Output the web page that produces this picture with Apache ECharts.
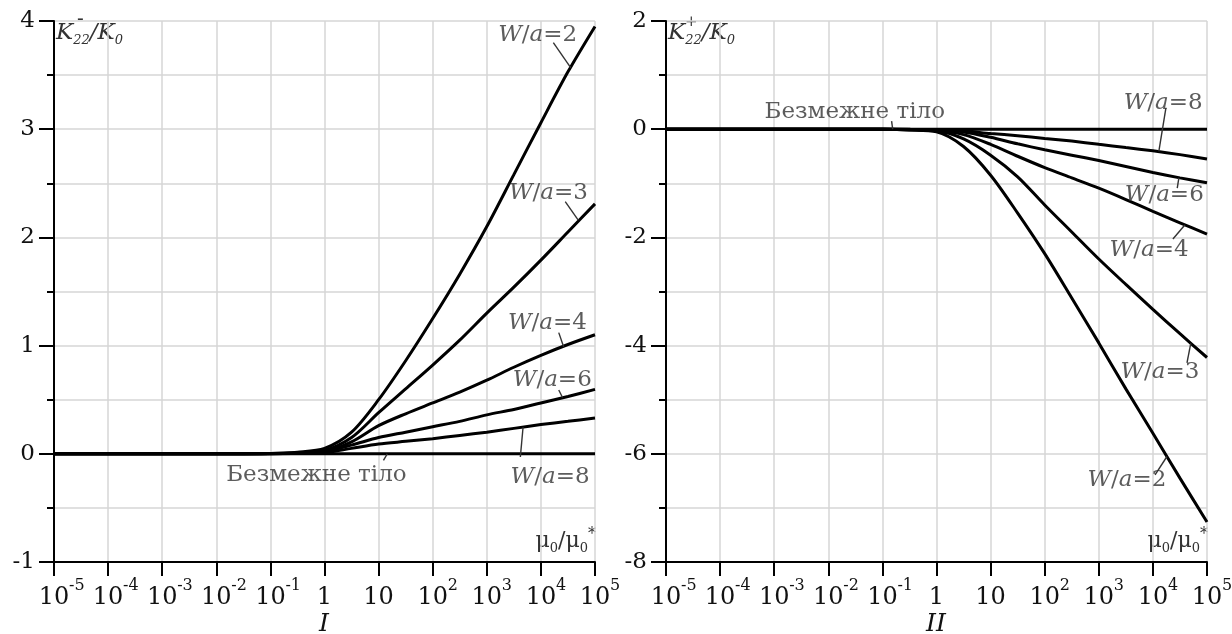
<!DOCTYPE html>
<html lang="uk">
<head>
  <meta charset="utf-8">
</head>
<body style="margin: 0">
  <div id="container" style="width: 1232px; height: 634px"></div>

  <script type="text/javascript" src="https://cdn.jsdelivr.net/npm/echarts@6/dist/echarts.min.js"></script>

  <script type="text/javascript">
    // x is lg(mu0/mu0*), one decade per unit
    var lgMu = [-5, -4, -3, -2, -1, -0.5, 0, 0.5, 1, 1.5, 2, 2.5, 3, 3.5, 4, 4.5, 5];
    var xTicks = [-5, -4, -3, -2, -1, 0, 1, 2, 3, 4, 5];

    // I : K22- / K0
    var minusInf = [0, 0, 0, 0, 0, 0, 0, 0, 0, 0, 0, 0, 0, 0, 0, 0, 0];
    var minusW2 = [0, 0, 0, 0, 0.003, 0.015, 0.05, 0.2, 0.5, 0.86, 1.25, 1.66, 2.1, 2.58, 3.06, 3.53, 3.95];
    var minusW3 = [0, 0, 0, 0, 0.002, 0.01, 0.03, 0.15, 0.38, 0.6, 0.82, 1.05, 1.3, 1.54, 1.79, 2.05, 2.31];
    var minusW4 = [0, 0, 0, 0, 0.002, 0.008, 0.02, 0.11, 0.26, 0.37, 0.47, 0.57, 0.68, 0.8, 0.91, 1.01, 1.1];
    var minusW6 = [0, 0, 0, 0, 0.001, 0.005, 0.02, 0.08, 0.15, 0.2, 0.25, 0.3, 0.36, 0.41, 0.47, 0.53, 0.595];
    var minusW8 = [0, 0, 0, 0, 0.001, 0.004, 0.01, 0.05, 0.09, 0.115, 0.14, 0.17, 0.2, 0.235, 0.27, 0.3, 0.33];

    // II : K22+ / K0
    var plusInf = [0, 0, 0, 0, 0, 0, 0, 0, 0, 0, 0, 0, 0, 0, 0, 0, 0];
    var plusW2 = [0, 0, 0, 0, -0.003, -0.015, -0.05, -0.32, -0.85, -1.55, -2.3, -3.12, -3.95, -4.8, -5.62, -6.45, -7.26];
    var plusW3 = [0, 0, 0, 0, -0.002, -0.01, -0.03, -0.18, -0.48, -0.88, -1.4, -1.9, -2.4, -2.87, -3.33, -3.78, -4.22];
    var plusW4 = [0, 0, 0, 0, -0.002, -0.008, -0.02, -0.1, -0.28, -0.5, -0.71, -0.9, -1.09, -1.3, -1.52, -1.73, -1.94];
    var plusW6 = [0, 0, 0, 0, -0.001, -0.005, -0.015, -0.05, -0.15, -0.27, -0.38, -0.48, -0.58, -0.69, -0.8, -0.9, -0.99];
    var plusW8 = [0, 0, 0, 0, -0.001, -0.003, -0.01, -0.03, -0.08, -0.12, -0.17, -0.22, -0.28, -0.34, -0.4, -0.47, -0.55];

    // curve captions: text anchor and leader line, in data coordinates
    var minusNotes = [
      { text: 'W/a=2', at: [3.94, 3.87], leader: [[4.23, 3.8], [4.55, 3.57]] },
      { text: 'W/a=3', at: [4.14, 2.41], leader: [[4.45, 2.33], [4.69, 2.16]] },
      { text: 'W/a=4', at: [4.12, 1.21], leader: [[4.33, 1.12], [4.42, 0.99]] },
      { text: 'W/a=6', at: [4.21, 0.68], leader: [[4.33, 0.59], [4.4, 0.52]] },
      { text: 'W/a=8', at: [4.17, -0.215], leader: [[3.62, -0.03], [3.67, 0.245]] },
      { text: 'Безмежне тіло', at: [-0.15, -0.195], leader: [[1.09, -0.06], [1.16, 0]] }
    ];
    var plusNotes = [
      { text: 'Безмежне тіло', at: [-1.51, 0.32], leader: [[-0.83, 0.15], [-0.81, 0]] },
      { text: 'W/a=8', at: [4.19, 0.48], leader: [[4.24, 0.39], [4.11, -0.41]] },
      { text: 'W/a=6', at: [4.21, -1.22], leader: [[4.45, -1.09], [4.48, -0.9]] },
      { text: 'W/a=4', at: [3.93, -2.23], leader: [[4.37, -2.03], [4.59, -1.77]] },
      { text: 'W/a=3', at: [4.13, -4.49], leader: [[4.63, -4.32], [4.7, -3.96]] },
      { text: 'W/a=2', at: [3.52, -6.48], leader: [[4.04, -6.39], [4.26, -6.05]] }
    ];

    var FONT = 'DejaVu Serif';
    var dom = document.getElementById('container');
    var myChart = echarts.init(dom, null, { renderer: 'canvas' });

    function pairs(ys) {
      return lgMu.map(function (x, i) { return [x, ys[i]]; });
    }

    // "10" part of each tick label, centred on the tick
    function baseLabel(v) {
      if (xTicks.indexOf(v) < 0) return '';
      return v === 0 ? '1' : '10';
    }
    // exponent part, drawn by a second axis, starting right of the "10"
    function expLabel(v) {
      if (xTicks.indexOf(v) < 0 || v === 0 || v === 1) return '';
      return '{p|}{s|' + v + '}';
    }

    var noteRich = {
      i: { fontSize: 23, fontFamily: FONT, fontStyle: 'italic', color: '#333' },
      n: { fontSize: 23, fontFamily: FONT, color: '#333' }
    };
    function noteText(t) {
      var m = /^W\/a=(\d)$/.exec(t);
      if (m) return '{i|W}{n|/}{i|a}{n|=' + m[1] + '}';
      return '{n|' + t + '}';
    }

    function xAxisFor(idx) {
      return {
        type: 'value', gridIndex: idx, position: 'bottom', min: -5, max: 5, interval: 1,
        axisLine: { show: true, onZero: false, lineStyle: { color: '#000', width: 2 } },
        axisTick: { show: true, length: 14, lineStyle: { color: '#000', width: 2 } },
        splitLine: { show: true, lineStyle: { color: '#d6d6d6', width: 1.5 } },
        axisLabel: {
          margin: 24, formatter: baseLabel, fontSize: 24, lineHeight: 24,
          fontFamily: FONT, color: '#111',
          showMinLabel: true, showMaxLabel: true, hideOverlap: false
        }
      };
    }
    function expAxisFor(idx) {
      return {
        type: 'value', gridIndex: idx, position: 'bottom', offset: 0, min: -5, max: 5, interval: 1,
        axisLine: { show: false, onZero: false }, axisTick: { show: false }, splitLine: { show: false },
        axisLabel: {
          margin: 16, formatter: expLabel, align: 'left',
          showMinLabel: true, showMaxLabel: true, hideOverlap: false,
          rich: {
            p: { width: 15, lineHeight: 16 },
            s: { fontSize: 16, fontFamily: FONT, color: '#111', lineHeight: 16 }
          }
        }
      };
    }
    function yAxisFor(idx, min, max, interval) {
      return {
        type: 'value', gridIndex: idx, min: min, max: max, interval: interval,
        axisLine: { show: true, onZero: false, lineStyle: { color: '#000', width: 2 } },
        axisTick: { show: true, length: 15, lineStyle: { color: '#000', width: 2 } },
        minorTick: { show: true, splitNumber: 2, length: 7, lineStyle: { color: '#000', width: 2 } },
        splitLine: { show: true, lineStyle: { color: '#d6d6d6', width: 1.5 } },
        minorSplitLine: { show: true, lineStyle: { color: '#d6d6d6', width: 1.5 } },
        axisLabel: {
          margin: 19, fontSize: 23, fontFamily: FONT, color: '#111',
          showMinLabel: true, showMaxLabel: true, hideOverlap: false
        }
      };
    }

    function curve(idx, ys) {
      return {
        type: 'line', xAxisIndex: idx, yAxisIndex: idx, data: pairs(ys),
        showSymbol: false, symbol: 'none', smooth: 0.3,
        lineStyle: { color: '#000', width: 3 }, silent: true, z: 3
      };
    }

    var series = [];
    [minusInf, minusW2, minusW3, minusW4, minusW6, minusW8].forEach(function (ys) { series.push(curve(0, ys)); });
    [plusInf, plusW2, plusW3, plusW4, plusW6, plusW8].forEach(function (ys) { series.push(curve(1, ys)); });

    [minusNotes, plusNotes].forEach(function (notes, idx) {
      notes.forEach(function (n) {
        series.push({
          type: 'line', xAxisIndex: idx, yAxisIndex: idx, data: n.leader,
          symbol: 'none', lineStyle: { color: '#333', width: 1.4 }, silent: true, z: 4
        });
      });
      series.push({
        type: 'scatter', xAxisIndex: idx, yAxisIndex: idx, symbolSize: 0.1, silent: true, z: 5,
        itemStyle: { color: 'transparent' },
        data: notes.map(function (n) { return { value: n.at, name: n.text }; }),
        label: {
          show: true, position: 'inside',
          formatter: function (p) { return noteText(p.name); },
          rich: noteRich
        }
      });
    });

    var subRich = {
      i: { fontSize: 23, fontFamily: FONT, fontStyle: 'italic', fill: '#333', lineHeight: 28, verticalAlign: 'middle' },
      si: { fontSize: 13, fontFamily: FONT, fontStyle: 'italic', fill: '#333', lineHeight: 28, verticalAlign: 'bottom' },
      m: { fontSize: 22, fontFamily: FONT, fill: '#333', lineHeight: 28, verticalAlign: 'middle' },
      sm: { fontSize: 13, fontFamily: FONT, fill: '#333', lineHeight: 28, verticalAlign: 'bottom' },
      sup: { fontSize: 16, fontFamily: FONT, fill: '#333', lineHeight: 28, verticalAlign: 'top' }
    };

    var option = {
      animation: false,
      backgroundColor: '#fff',
      grid: [
        { left: 54, top: 21, width: 541, height: 541, outerBoundsMode: 'none' },
        { left: 666, top: 21, width: 541, height: 541, outerBoundsMode: 'none' }
      ],
      xAxis: [xAxisFor(0), xAxisFor(1), expAxisFor(0), expAxisFor(1)],
      yAxis: [yAxisFor(0, -1, 4, 1), yAxisFor(1, -8, 2, 2)],
      series: series,
      graphic: [
        { type: 'text', x: 56, y: 33, style: { text: '{i|K}{si|22}{i|/K}{si|0}', rich: subRich, verticalAlign: 'middle' } },
        { type: 'text', x: 77, y: 20, style: { text: '-', font: '20px ' + FONT, fill: '#333', verticalAlign: 'middle' } },
        { type: 'text', x: 668, y: 33, style: { text: '{i|K}{si|22}{i|/K}{si|0}', rich: subRich, verticalAlign: 'middle' } },
        { type: 'text', x: 685, y: 22, style: { text: '+', font: '15px ' + FONT, fill: '#333', verticalAlign: 'middle' } },
        { type: 'text', x: 596, y: 541, style: { text: '{m|μ}{sm|0}{m|/μ}{sm|0}{sup|*}', rich: subRich, align: 'right', verticalAlign: 'middle' } },
        { type: 'text', x: 1208, y: 541, style: { text: '{m|μ}{sm|0}{m|/μ}{sm|0}{sup|*}', rich: subRich, align: 'right', verticalAlign: 'middle' } },
        { type: 'text', x: 324, y: 624, style: { text: 'I', font: 'italic 25px ' + FONT, fill: '#111', align: 'center', verticalAlign: 'middle' } },
        { type: 'text', x: 936, y: 624, style: { text: 'II', font: 'italic 25px ' + FONT, fill: '#111', align: 'center', verticalAlign: 'middle' } }
      ]
    };

    myChart.setOption(option);
    window.addEventListener('resize', myChart.resize);
  </script>
</body>
</html>
